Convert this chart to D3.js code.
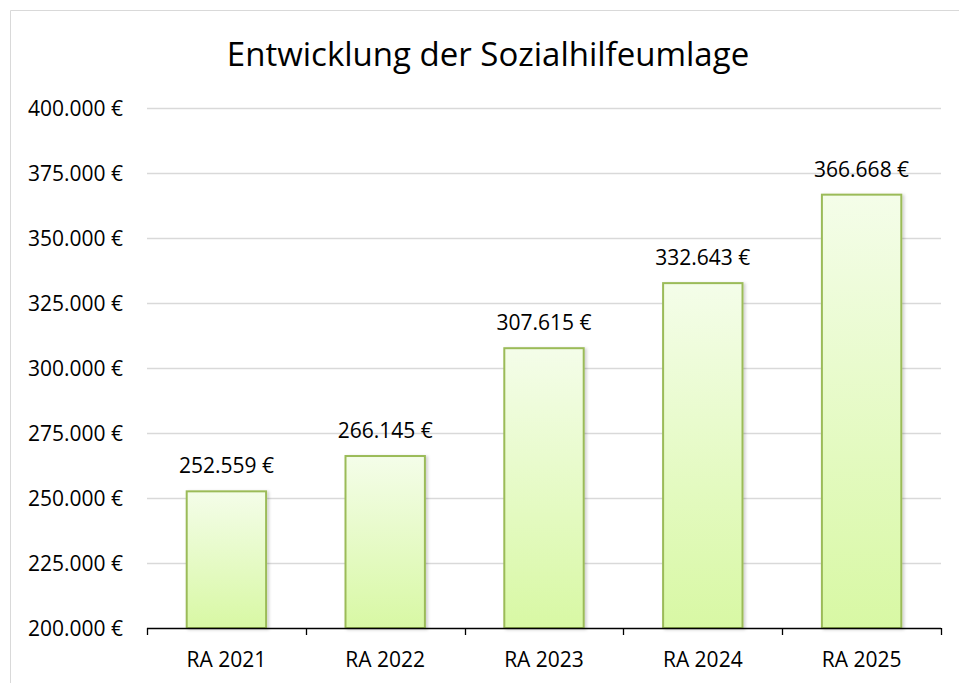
<!DOCTYPE html>
<html><head><meta charset="utf-8">
<script src="https://cdn.jsdelivr.net/npm/d3@7"></script>
<style>body{margin:0;background:#fff}svg{display:block}text{font-family:"Open Sans",sans-serif;fill:#000}</style>
</head><body><svg id="c" width="959" height="683"></svg>
<script>
const categories = ["RA 2021","RA 2022","RA 2023","RA 2024","RA 2025"];
const values = [252559, 266145, 307615, 332643, 366668];
const yTicks = [200000,225000,250000,275000,300000,325000,350000,375000,400000];
const title = "Entwicklung der Sozialhilfeumlage";

const svg = d3.select("#c");
const fmt = v => d3.format(",")(v).replace(/,/g,".") + " €";

// chart border (top and left visible)
svg.append("line").attr("x1",10.5).attr("x2",959).attr("y1",10.5).attr("y2",10.5).attr("stroke","#d9d9d9");
svg.append("line").attr("x1",10.5).attr("x2",10.5).attr("y1",10.5).attr("y2",683).attr("stroke","#d9d9d9");

const x = d3.scaleBand().domain(categories).range([147,941]).paddingInner(0.5).paddingOuter(0.25);
const y = d3.scaleLinear().domain([200000,400000]).range([628,108]);

const defs = svg.append("defs");
const g = defs.append("linearGradient").attr("id","gr").attr("x1",0).attr("y1",0).attr("x2",0).attr("y2",1);
g.append("stop").attr("offset",0).attr("stop-color","#f4fde9");
g.append("stop").attr("offset",1).attr("stop-color","#d8f8a4");
const f = defs.append("filter").attr("id","sh").attr("x","-20%").attr("y","-20%").attr("width","150%").attr("height","150%");
f.append("feDropShadow").attr("dx",2).attr("dy",1).attr("stdDeviation",1.5).attr("flood-color","#000").attr("flood-opacity",0.18);

// gridlines
svg.append("g").selectAll("line").data(yTicks.slice(1)).join("line")
  .attr("x1",147).attr("x2",941).attr("y1",d=>Math.round(y(d))+0.5).attr("y2",d=>Math.round(y(d))+0.5)
  .attr("stroke","#d9d9d9").attr("stroke-width",1.3);

// y labels
svg.append("g").selectAll("text").data(yTicks).join("text")
  .attr("x",123).attr("y",d=>y(d)+7.5).attr("text-anchor","end")
  .attr("font-size",21).text(fmt);

// bars
svg.append("g").selectAll("rect").data(values).join("rect")
  .attr("x",(d,i)=>x(categories[i])).attr("width",x.bandwidth())
  .attr("y",d=>y(d)).attr("height",d=>y(200000)-y(d))
  .attr("fill","url(#gr)").attr("stroke","#9bbb59").attr("stroke-width",2).attr("filter","url(#sh)");

// value labels
svg.append("g").selectAll("text").data(values).join("text")
  .attr("x",(d,i)=>x(categories[i])+x.bandwidth()/2).attr("y",d=>y(d)-18)
  .attr("text-anchor","middle").attr("font-size",21).text(fmt);

// x axis
const xa = svg.append("g");
xa.append("line").attr("x1",147).attr("x2",941).attr("y1",628.5).attr("y2",628.5).attr("stroke","#000").attr("stroke-width",1.3);
const bounds = d3.range(categories.length+1).map(i=>147 + i*(941-147)/categories.length);
xa.selectAll("line.t").data(bounds).join("line").attr("class","t")
  .attr("x1",d=>Math.round(d)+0.5).attr("x2",d=>Math.round(d)+0.5).attr("y1",628).attr("y2",635)
  .attr("stroke","#000").attr("stroke-width",1.3);
xa.selectAll("text").data(categories).join("text")
  .attr("x",d=>x(d)+x.bandwidth()/2).attr("y",667).attr("text-anchor","middle")
  .attr("font-size",21).text(d=>d);

svg.append("text").attr("x",488).attr("y",66).attr("text-anchor","middle").attr("font-size",33).text(title);
</script></body></html>
